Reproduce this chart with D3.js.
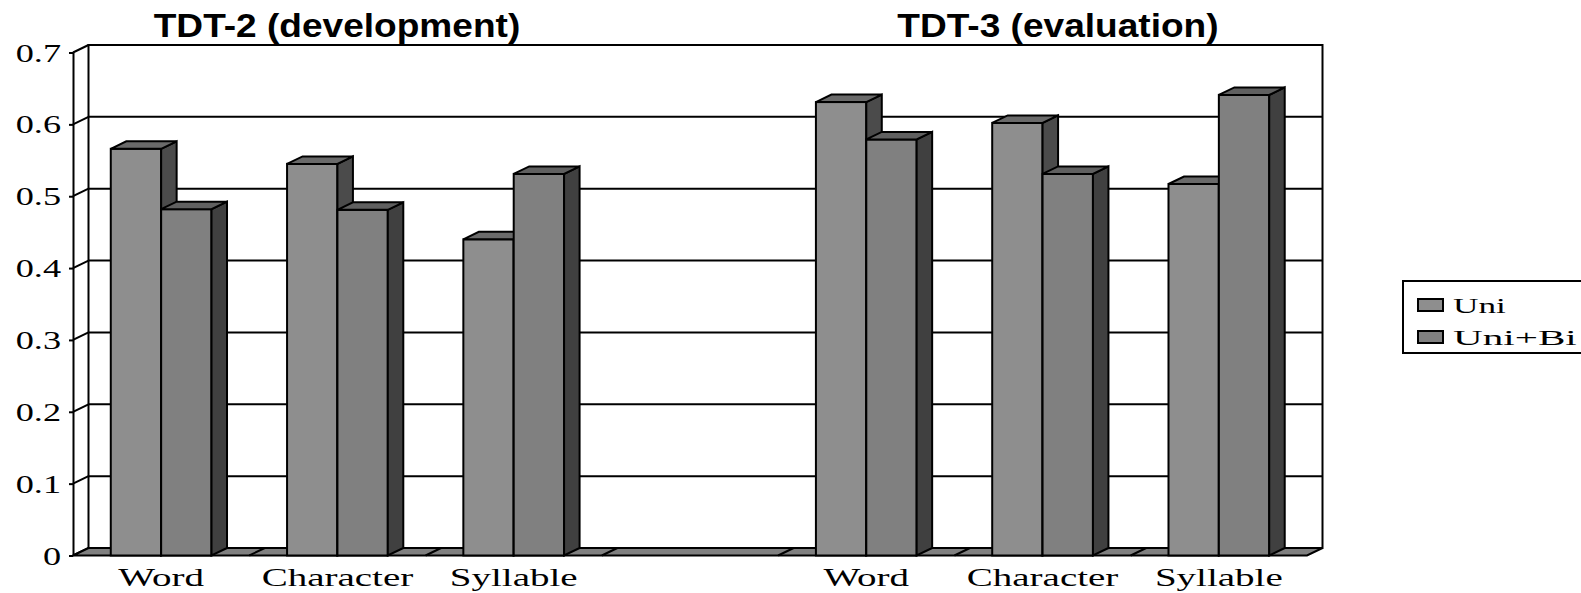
<!DOCTYPE html>
<html>
<head>
<meta charset="utf-8">
<script src="https://cdn.jsdelivr.net/npm/d3@7"></script>
<style>
  html, body { margin: 0; padding: 0; background: #fff; }
  svg { display: block; }
</style>
</head>
<body>
<script>
// Retrieval scores by indexing unit, for two test collections
const groups = ["TDT-2 (development)", "TDT-3 (evaluation)"];
const units = ["Word", "Character", "Syllable"];
const series = ["Uni", "Uni+Bi"];
const uniValues   = [0.566, 0.545, 0.440, 0.631, 0.602, 0.517];
const uniBiValues = [0.482, 0.481, 0.531, 0.579, 0.531, 0.641];
const yTickValues = [0, 0.1, 0.2, 0.3, 0.4, 0.5, 0.6, 0.7];
const yTickLabels = ["0", "0.1", "0.2", "0.3", "0.4", "0.5", "0.6", "0.7"];

const W = 1581, H = 593;
const DX = 15.5, DY = 7.5;              // oblique depth offset of the 3-D box
const serif = "'Liberation Serif', 'Times New Roman', serif";
const sans = "'Liberation Sans', Arial, sans-serif";

const faces = {
  "Uni":    { front: "#8e8e8e", top: "#6a6a6a", side: "#4b4b4b" },
  "Uni+Bi": { front: "#808080", top: "#606060", side: "#404040" }
};

// one slot per unit in each collection, with an empty slot between collections
const slots = [];
groups.forEach((g, gi) => units.forEach((u, ui) => {
  const k = gi * units.length + ui;
  slots.push({ group: g, unit: u, slot: gi * (units.length + 1) + ui,
               values: { "Uni": uniValues[k], "Uni+Bi": uniBiValues[k] } });
}));
const nSlots = groups.length * (units.length + 1) - 1;

const svg = d3.select("body").append("svg").attr("width", W).attr("height", H);
svg.append("rect").attr("width", W).attr("height", H).attr("fill", "#fff");

const x = d3.scaleBand().domain(d3.range(nSlots)).range([73, 1307]).paddingInner(0).paddingOuter(0);
const xs = d3.scaleBand().domain(series).range([0, x.bandwidth()]).paddingInner(0).paddingOuter(0.75);
const y = d3.scaleLinear().domain([0, 0.7]).range([555.5, 52.5]);   // front plane
const yb = v => y(v) - DY;                                            // back plane

const stroke = "#000";

// stretch text horizontally to the wide lettering of the chart
function widen(sel, k) {
  sel.each(function () {
    const L = this.getComputedTextLength();
    d3.select(this).attr("textLength", L * k).attr("lengthAdjust", "spacingAndGlyphs");
  });
}

// back wall
const x0 = x.range()[0], x1 = x.range()[1];
svg.append("rect")
  .attr("x", x0 + DX).attr("y", yb(0.7))
  .attr("width", x1 - x0).attr("height", yb(0) - yb(0.7))
  .attr("fill", "#fff").attr("stroke", stroke).attr("stroke-width", 2);

// gridlines on the back wall and across the side wall
const grid = svg.append("g").attr("stroke", stroke).attr("stroke-width", 2).attr("fill", "none");
grid.selectAll("line.back").data(yTickValues.filter(v => v > 0 && v < 0.7)).join("line")
  .attr("class", "back")
  .attr("x1", x0 + DX).attr("x2", x1 + DX)
  .attr("y1", d => yb(d)).attr("y2", d => yb(d));
grid.selectAll("line.side").data(yTickValues).join("line")
  .attr("class", "side")
  .attr("x1", x0).attr("y1", d => y(d))
  .attr("x2", x0 + DX).attr("y2", d => yb(d));

// floor
svg.append("path")
  .attr("d", `M${x0},${y(0)}L${x1},${y(0)}L${x1 + DX},${yb(0)}L${x0 + DX},${yb(0)}Z`)
  .attr("fill", "#808080").attr("stroke", stroke).attr("stroke-width", 2).attr("stroke-linejoin", "miter");
svg.append("g").attr("stroke", stroke).attr("stroke-width", 2)
  .selectAll("line").data(d3.range(1, nSlots)).join("line")
  .attr("x1", d => x(d)).attr("y1", y(0))
  .attr("x2", d => x(d) + DX).attr("y2", yb(0));

// front value axis
const yAxis = svg.append("g").attr("transform", `translate(${x0},0)`)
  .call(d3.axisLeft(y).tickValues(yTickValues).tickSize(4).tickSizeOuter(0).tickPadding(8)
    .tickFormat((d, i) => yTickLabels[i]));
yAxis.select(".domain").attr("stroke", stroke).attr("stroke-width", 2);
yAxis.selectAll(".tick line").attr("stroke", stroke).attr("stroke-width", 2);
yAxis.selectAll(".tick text")
  .attr("font-family", serif).attr("font-size", 25).attr("fill", "#000")
  .attr("dy", "0.34em");
widen(yAxis.selectAll(".tick text"), 1.45);

// 3-D bars
const bars = svg.append("g").attr("stroke", stroke).attr("stroke-width", 2).attr("stroke-linejoin", "miter");
slots.forEach(s => {
  series.forEach(name => {
    const v = s.values[name];
    const a = x(s.slot) + xs(name), b = a + xs.bandwidth();
    const t = y(v), z = y(0);
    const g = bars.append("g");
    g.append("rect").attr("x", a).attr("y", t).attr("width", b - a).attr("height", z - t)
      .attr("fill", faces[name].front);
    g.append("path")
      .attr("d", `M${b},${t}L${b + DX},${t - DY}L${b + DX},${z - DY}L${b},${z}Z`)
      .attr("fill", faces[name].side);
    g.append("path")
      .attr("d", `M${a},${t}L${a + DX},${t - DY}L${b + DX},${t - DY}L${b},${t}Z`)
      .attr("fill", faces[name].top);
  });
});

// category labels
const catLabels = svg.append("g").selectAll("text").data(slots).join("text")
  .attr("x", d => x(d.slot) + x.bandwidth() / 2)
  .attr("y", 586)
  .attr("text-anchor", "middle")
  .attr("font-family", serif).attr("font-size", 26).attr("fill", "#000")
  .text(d => d.unit);
widen(catLabels, 1.5);

// collection titles above each half
const titlePos = [337, 1058];
const titles = svg.append("g").selectAll("text").data(groups).join("text")
  .attr("x", (d, i) => titlePos[i]).attr("y", 36.5)
  .attr("text-anchor", "middle")
  .attr("font-family", sans).attr("font-weight", "bold").attr("font-size", 34).attr("fill", "#000")
  .text(d => d);
widen(titles, 1.09);

// legend
const legendStretch = [1.6, 1.87];
const legend = svg.append("g");
legend.append("rect").attr("x", 1403).attr("y", 281).attr("width", 200).attr("height", 72)
  .attr("fill", "#fff").attr("stroke", stroke).attr("stroke-width", 2);
series.forEach((name, i) => {
  legend.append("rect").attr("x", 1418).attr("y", 299 + i * 32).attr("width", 25).attr("height", 12)
    .attr("fill", faces[name].front).attr("stroke", stroke).attr("stroke-width", 2);
  const t = legend.append("text").attr("x", 1453).attr("y", 312.5 + i * 32)
    .attr("font-family", serif).attr("font-size", 22).attr("fill", "#000").text(name);
  widen(t, legendStretch[i]);
});
</script>
</body>
</html>
